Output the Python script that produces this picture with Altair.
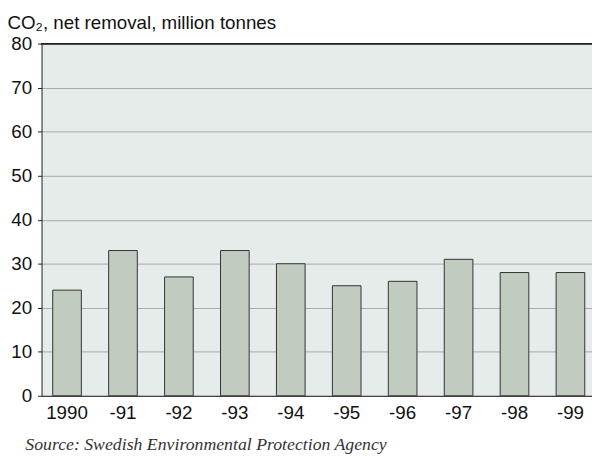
import altair as alt
import pandas as pd

years = ["1990", "-91", "-92", "-93", "-94", "-95", "-96", "-97", "-98", "-99"]
values = [24, 33, 27, 33, 30, 25, 26, 31, 28, 28]
y_ticks = [0, 10, 20, 30, 40, 50, 60, 70, 80]
y_max = 80

df = pd.DataFrame({"year": years, "value": values})

bars = alt.Chart(df).mark_bar(
    fill="#c1cbbf", stroke="#333333", strokeWidth=1
).encode(
    x=alt.X(
        "year:N",
        sort=years,
        scale=alt.Scale(paddingInner=0.488, paddingOuter=0.2),
        axis=alt.Axis(
            title="Source: Swedish Environmental Protection Agency",
            titleFont="Liberation Serif",
            titleFontStyle="italic",
            titleFontWeight="normal",
            titleFontSize=18,
            titleColor="#333333",
            titleAnchor="start",
            titleAlign="left",
            titleBaseline="alphabetic",
            titleX=-17,
            titleY=54,
            labelAngle=0,
            labelFont="Liberation Sans",
            labelFontSize=19,
            labelColor="#111111",
            labelPadding=8,
            ticks=False,
            domainColor="#222222",
            grid=False,
        ),
    ),
    y=alt.Y(
        "value:Q",
        scale=alt.Scale(domain=[0, y_max], nice=False),
        axis=alt.Axis(
            values=y_ticks,
            title="CO₂, net removal, million tonnes",
            titleFont="Liberation Sans",
            titleFontWeight="normal",
            titleFontSize=19,
            titleColor="#111111",
            titleAngle=0,
            titleAlign="left",
            titleBaseline="alphabetic",
            titleX=-35,
            titleY=-15,
            labelFont="Liberation Sans",
            labelFontSize=19,
            labelColor="#111111",
            labelPadding=6,
            tickSize=4,
            tickColor="#222222",
            domainColor="#222222",
            gridColor="#a9aaa9",
            gridWidth=1,
        ),
    ),
)

top_line = alt.Chart(df).mark_rule(color="#222222", strokeWidth=1).encode(
    y=alt.datum(y_max)
)

chart = alt.layer(bars, top_line).properties(
    width=562,
    height=357,
    autosize=alt.AutoSizeParams(type="none"),
    padding={"left": 34, "top": 33, "right": -4, "bottom": 63},
    background="white",
).configure_view(
    fill="#e6ecea", strokeWidth=0
)

chart.save("out.html", embed_options={"renderer": "svg", "actions": False})
